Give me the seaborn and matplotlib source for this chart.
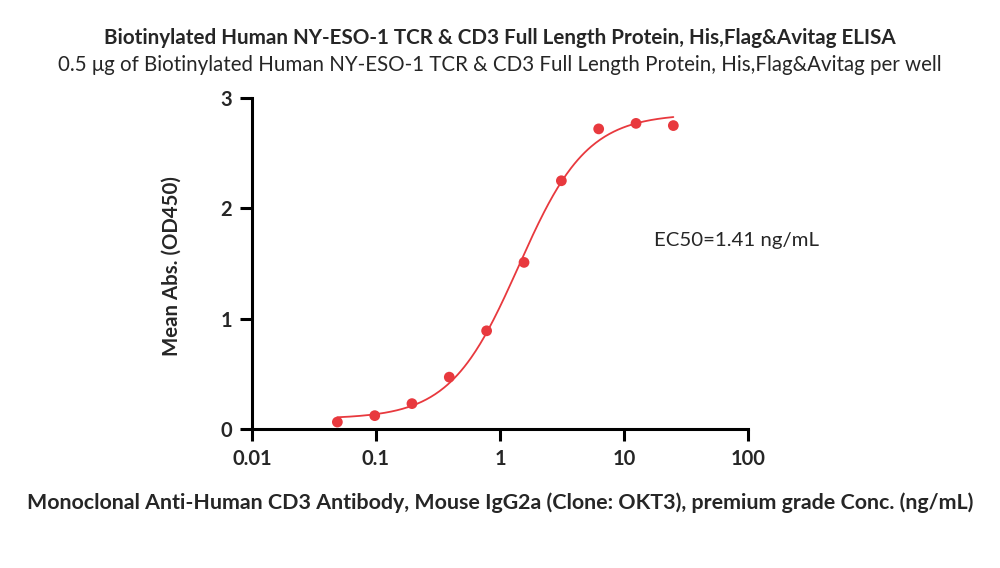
import numpy as np
import pandas as pd
import seaborn as sns
import matplotlib
matplotlib.use("Agg")
import matplotlib.pyplot as plt
from matplotlib.ticker import FixedLocator, NullLocator

# data
conc = [0.0488, 0.0977, 0.195, 0.39, 0.78, 1.5625, 3.125, 6.25, 12.5, 25.0]
od450 = [0.063, 0.121, 0.23, 0.47, 0.89, 1.51, 2.25, 2.72, 2.77, 2.75]
x_ticks = [0.01, 0.1, 1, 10, 100]
x_tick_labels = ["0.01", "0.1", "1", "10", "100"]
y_ticks = [0, 1, 2, 3]
ec50_text = "EC50=1.41 ng/mL"

title = "Biotinylated Human NY-ESO-1 TCR & CD3 Full Length Protein, His,Flag&Avitag ELISA"
subtitle = "0.5 \u03bcg of Biotinylated Human NY-ESO-1 TCR & CD3 Full Length Protein, His,Flag&Avitag per well"
xlabel = "Monoclonal Anti-Human CD3 Antibody, Mouse IgG2a (Clone: OKT3), premium grade Conc. (ng/mL)"
ylabel = "Mean Abs. (OD450)"

red = "#E8393E"

df = pd.DataFrame({"conc": conc, "od": od450})

# 4PL fit: grid over ec50/hill, linear least squares for bottom/top
x = np.array(conc)
y = np.array(od450)
best = None
for lec in np.linspace(-0.5, 1.0, 301):
    for h in np.linspace(0.5, 3.0, 251):
        g = 1.0 / (1.0 + (10 ** lec / x) ** h)
        A = np.column_stack([1 - g, g])
        coef, *_ = np.linalg.lstsq(A, y, rcond=None)
        err = np.sum((A @ coef - y) ** 2)
        if best is None or err < best[0]:
            best = (err, lec, h, coef)
_, lec, h, (bottom, top) = best
xs = np.logspace(np.log10(x.min()), np.log10(x.max()), 300)
ys = bottom + (top - bottom) / (1.0 + (10 ** lec / xs) ** h)
fit = pd.DataFrame({"conc": xs, "od": ys})

sns.set_style("ticks")
plt.rcParams["font.family"] = ["Lato", "DejaVu Sans"]

fig = plt.figure(figsize=(10, 5.68), dpi=100)
ax = fig.add_axes([0.252, 1 - 429 / 568, 0.496, (429 - 98) / 568])

sns.lineplot(data=fit, x="conc", y="od", ax=ax, color=red, linewidth=1.3)
sns.scatterplot(data=df, x="conc", y="od", ax=ax, color=red, s=60, edgecolor="none", zorder=3)

ax.set_xscale("log")
ax.set_xlim(0.01, 100)
ax.set_ylim(0, 3)
ax.xaxis.set_major_locator(FixedLocator(x_ticks))
ax.xaxis.set_minor_locator(NullLocator())
ax.set_xticklabels(x_tick_labels)
ax.set_yticks(y_ticks)
ax.set_xlabel("")
ax.set_ylabel("")

for s in ["top", "right"]:
    ax.spines[s].set_visible(False)
for s in ["left", "bottom"]:
    ax.spines[s].set_linewidth(2.2)
    ax.spines[s].set_color("black")
ax.tick_params(axis="both", length=8.5, width=2.2, color="black", labelsize=14.5, pad=6)
for lab in ax.get_xticklabels() + ax.get_yticklabels():
    lab.set_fontweight("bold")

ax.text(0.81, 0.57, ec50_text, transform=ax.transAxes, fontsize=14.7, ha="left", va="center")

fig.text(0.5, 1 - 38 / 568, title, ha="center", va="center", fontsize=14.9, fontweight="bold")
fig.text(0.5, 1 - 65 / 568, subtitle, ha="center", va="center", fontsize=14.8)
fig.text(0.5, 1 - 503 / 568, xlabel, ha="center", va="center", fontsize=15.4, fontweight="bold")
fig.text(0.172, 1 - 266 / 568, ylabel, ha="center", va="center", rotation=90, fontsize=14.7, fontweight="bold")

fig.savefig("out.png", dpi=100)
